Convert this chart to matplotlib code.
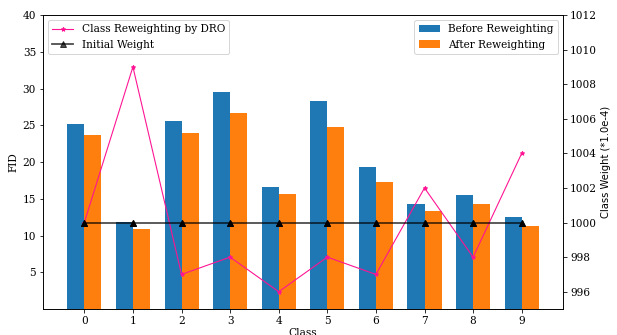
import matplotlib
matplotlib.use("Agg")
import matplotlib.pyplot as plt
import numpy as np

plt.rcParams["font.family"] = "DejaVu Serif"
plt.rcParams["font.size"] = 10.5

# FID per class, before / after reweighting
classes = list(range(10))
fid_before = [25.2, 11.9, 25.6, 29.5, 16.6, 28.3, 19.3, 14.3, 15.5, 12.5]
fid_after = [23.7, 10.9, 23.9, 26.7, 15.6, 24.8, 17.3, 13.3, 14.3, 11.3]

# class weights (*1.0e-4)
dro_weight = [1000, 1009, 997, 998, 996, 998, 997, 1002, 998, 1004]
init_weight = [1000] * 10

fig = plt.figure(figsize=(617 / 72, 335 / 72), dpi=72)
ax1 = fig.add_axes([0.0697, 0.0776, 0.8428, 0.8776])

x = np.arange(len(classes))
width = 0.35
ax1.bar(x - width / 2, fid_before, width, color="#1f77b4", label="Before Reweighting")
ax1.bar(x + width / 2, fid_after, width, color="#ff7f0e", label="After Reweighting")
ax1.set_ylim(0, 40)
ax1.set_yticks(range(5, 45, 5))
ax1.set_xticks(x)
ax1.set_xticklabels([str(c) for c in classes])
ax1.set_xlim(-0.85, 9.85)
ax1.set_xlabel("Class", labelpad=2)
ax1.set_ylabel("FID")
ax1.legend(loc="upper right")

ax2 = ax1.twinx()
ax2.plot(x, dro_weight, color="deeppink", marker="*", markersize=4.5, linewidth=1.1,
         label="Class Reweighting by DRO")
ax2.plot(x, init_weight, color="black", marker="^", markersize=5.5, linewidth=1.8,
         alpha=0.7, label="Initial Weight")
ax2.plot(x, init_weight, color="black", marker="^", markersize=5.5, linewidth=0)
ax2.set_ylim(995, 1012)
ax2.set_yticks(range(996, 1014, 2))
ax2.set_ylabel("Class Weight (*1.0e-4)", fontsize=10, family="DejaVu Sans")
ax2.legend(loc="upper left")

plt.savefig("out.png", dpi=72)
